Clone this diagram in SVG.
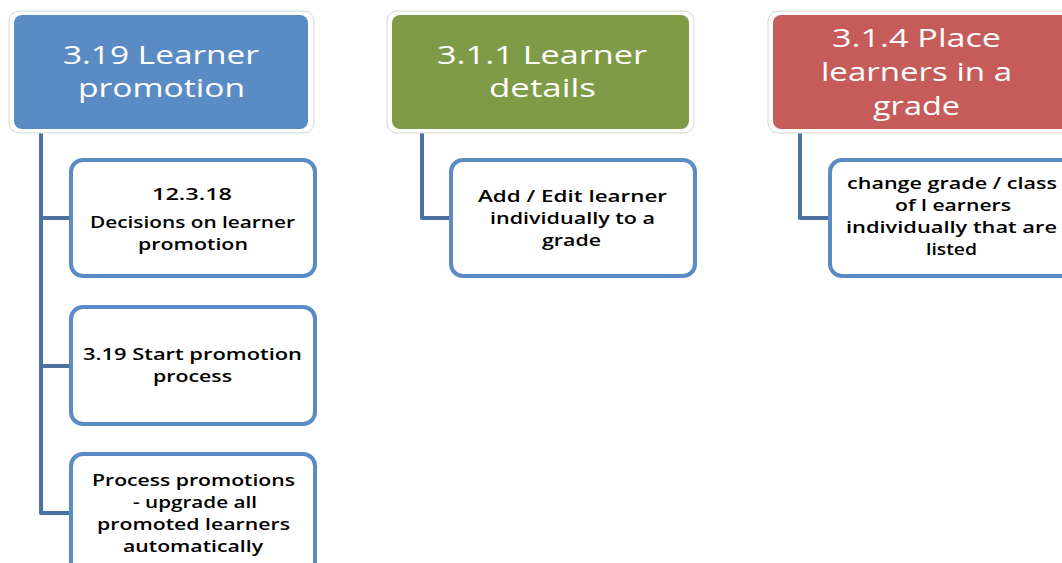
<svg xmlns="http://www.w3.org/2000/svg" width="1062" height="563" viewBox="0 0 1062 563">
<style>
.halo{fill:#ffffff;stroke:#d6d6d6;stroke-width:1}
.title{fill:#ffffff;font-family:"Open Sans","Liberation Sans",sans-serif;font-size:26px}
.child{fill:#ffffff;stroke:#5b8bc4;stroke-width:4}
.ct{fill:#000000;font-family:"Open Sans","Liberation Sans",sans-serif;font-size:17px;font-weight:600}
.conn{fill:none;stroke:#4d70a2;stroke-width:4;stroke-linejoin:round}
</style>
<rect x="0" y="0" width="1062" height="563" fill="#ffffff"/>
<g id="connectors">
<path class="conn" d="M41,129 V513 H72 M41,218 H72 M41,366 H72"/>
<path class="conn" d="M422,129 V218 H451"/>
<path class="conn" d="M800,129 V218 H830"/>
</g>
<g id="n-learner-promotion">
<rect class="halo" x="9" y="11" width="305" height="122" rx="10"/>
<rect x="14" y="15" width="294" height="114" rx="8" fill="#5b8bc4"/>
<text class="title" x="63" y="64" textLength="196" lengthAdjust="spacingAndGlyphs">3.19 Learner</text>
<text class="title" x="78" y="97" textLength="167" lengthAdjust="spacingAndGlyphs">promotion</text>
</g>
<g id="n-learner-details">
<rect class="halo" x="387" y="11" width="307" height="122" rx="10"/>
<rect x="392" y="15" width="297" height="114" rx="8" fill="#7f9b47"/>
<text class="title" x="437" y="64" textLength="210" lengthAdjust="spacingAndGlyphs">3.1.1 Learner</text>
<text class="title" x="489" y="97" textLength="107" lengthAdjust="spacingAndGlyphs">details</text>
</g>
<g id="n-place-learners">
<rect class="halo" x="768" y="11" width="310" height="122" rx="10"/>
<rect x="773" y="15" width="300" height="114" rx="8" fill="#c65c5a"/>
<text class="title" x="832" y="47" textLength="169" lengthAdjust="spacingAndGlyphs">3.1.4 Place</text>
<text class="title" x="821" y="81" textLength="191" lengthAdjust="spacingAndGlyphs">learners in a</text>
<text class="title" x="873" y="115" textLength="87" lengthAdjust="spacingAndGlyphs">grade</text>
</g>
<g id="n-decisions">
<rect class="child" x="71" y="160" width="244" height="116" rx="12"/>
<text class="ct" x="152" y="200" textLength="80" lengthAdjust="spacingAndGlyphs">12.3.18</text>
<text class="ct" x="90" y="228" textLength="205" lengthAdjust="spacingAndGlyphs">Decisions on learner</text>
<text class="ct" x="138" y="250" textLength="110" lengthAdjust="spacingAndGlyphs">promotion</text>
</g>
<g id="n-start-promotion">
<rect class="child" x="71" y="307" width="244" height="117" rx="12"/>
<text class="ct" x="83" y="360" textLength="219" lengthAdjust="spacingAndGlyphs">3.19 Start promotion</text>
<text class="ct" x="153" y="382" textLength="79" lengthAdjust="spacingAndGlyphs">process</text>
</g>
<g id="n-process-promotions">
<rect class="child" x="71" y="454" width="244" height="130" rx="12"/>
<text class="ct" x="92" y="486" textLength="203" lengthAdjust="spacingAndGlyphs">Process promotions</text>
<text class="ct" x="133" y="508" textLength="124" lengthAdjust="spacingAndGlyphs">- upgrade all</text>
<text class="ct" x="97" y="530" textLength="193" lengthAdjust="spacingAndGlyphs">promoted learners</text>
<text class="ct" x="123" y="552" textLength="140" lengthAdjust="spacingAndGlyphs">automatically</text>
</g>
<g id="n-add-edit">
<rect class="child" x="451" y="160" width="244" height="116" rx="12"/>
<text class="ct" x="478" y="202" textLength="189" lengthAdjust="spacingAndGlyphs">Add  / Edit learner</text>
<text class="ct" x="490" y="224" textLength="165" lengthAdjust="spacingAndGlyphs">individually to a</text>
<text class="ct" x="542" y="246" textLength="59" lengthAdjust="spacingAndGlyphs">grade</text>
</g>
<g id="n-change-grade">
<rect class="child" x="830" y="160" width="250" height="116" rx="12"/>
<text class="ct" x="847" y="189" textLength="210" lengthAdjust="spacingAndGlyphs">change grade / class</text>
<text class="ct" x="895" y="211" textLength="116" lengthAdjust="spacingAndGlyphs">of l earners</text>
<text class="ct" x="846" y="233" textLength="211" lengthAdjust="spacingAndGlyphs">individually  that are</text>
<text class="ct" x="926" y="255" textLength="51" lengthAdjust="spacingAndGlyphs">listed</text>
</g>
</svg>
